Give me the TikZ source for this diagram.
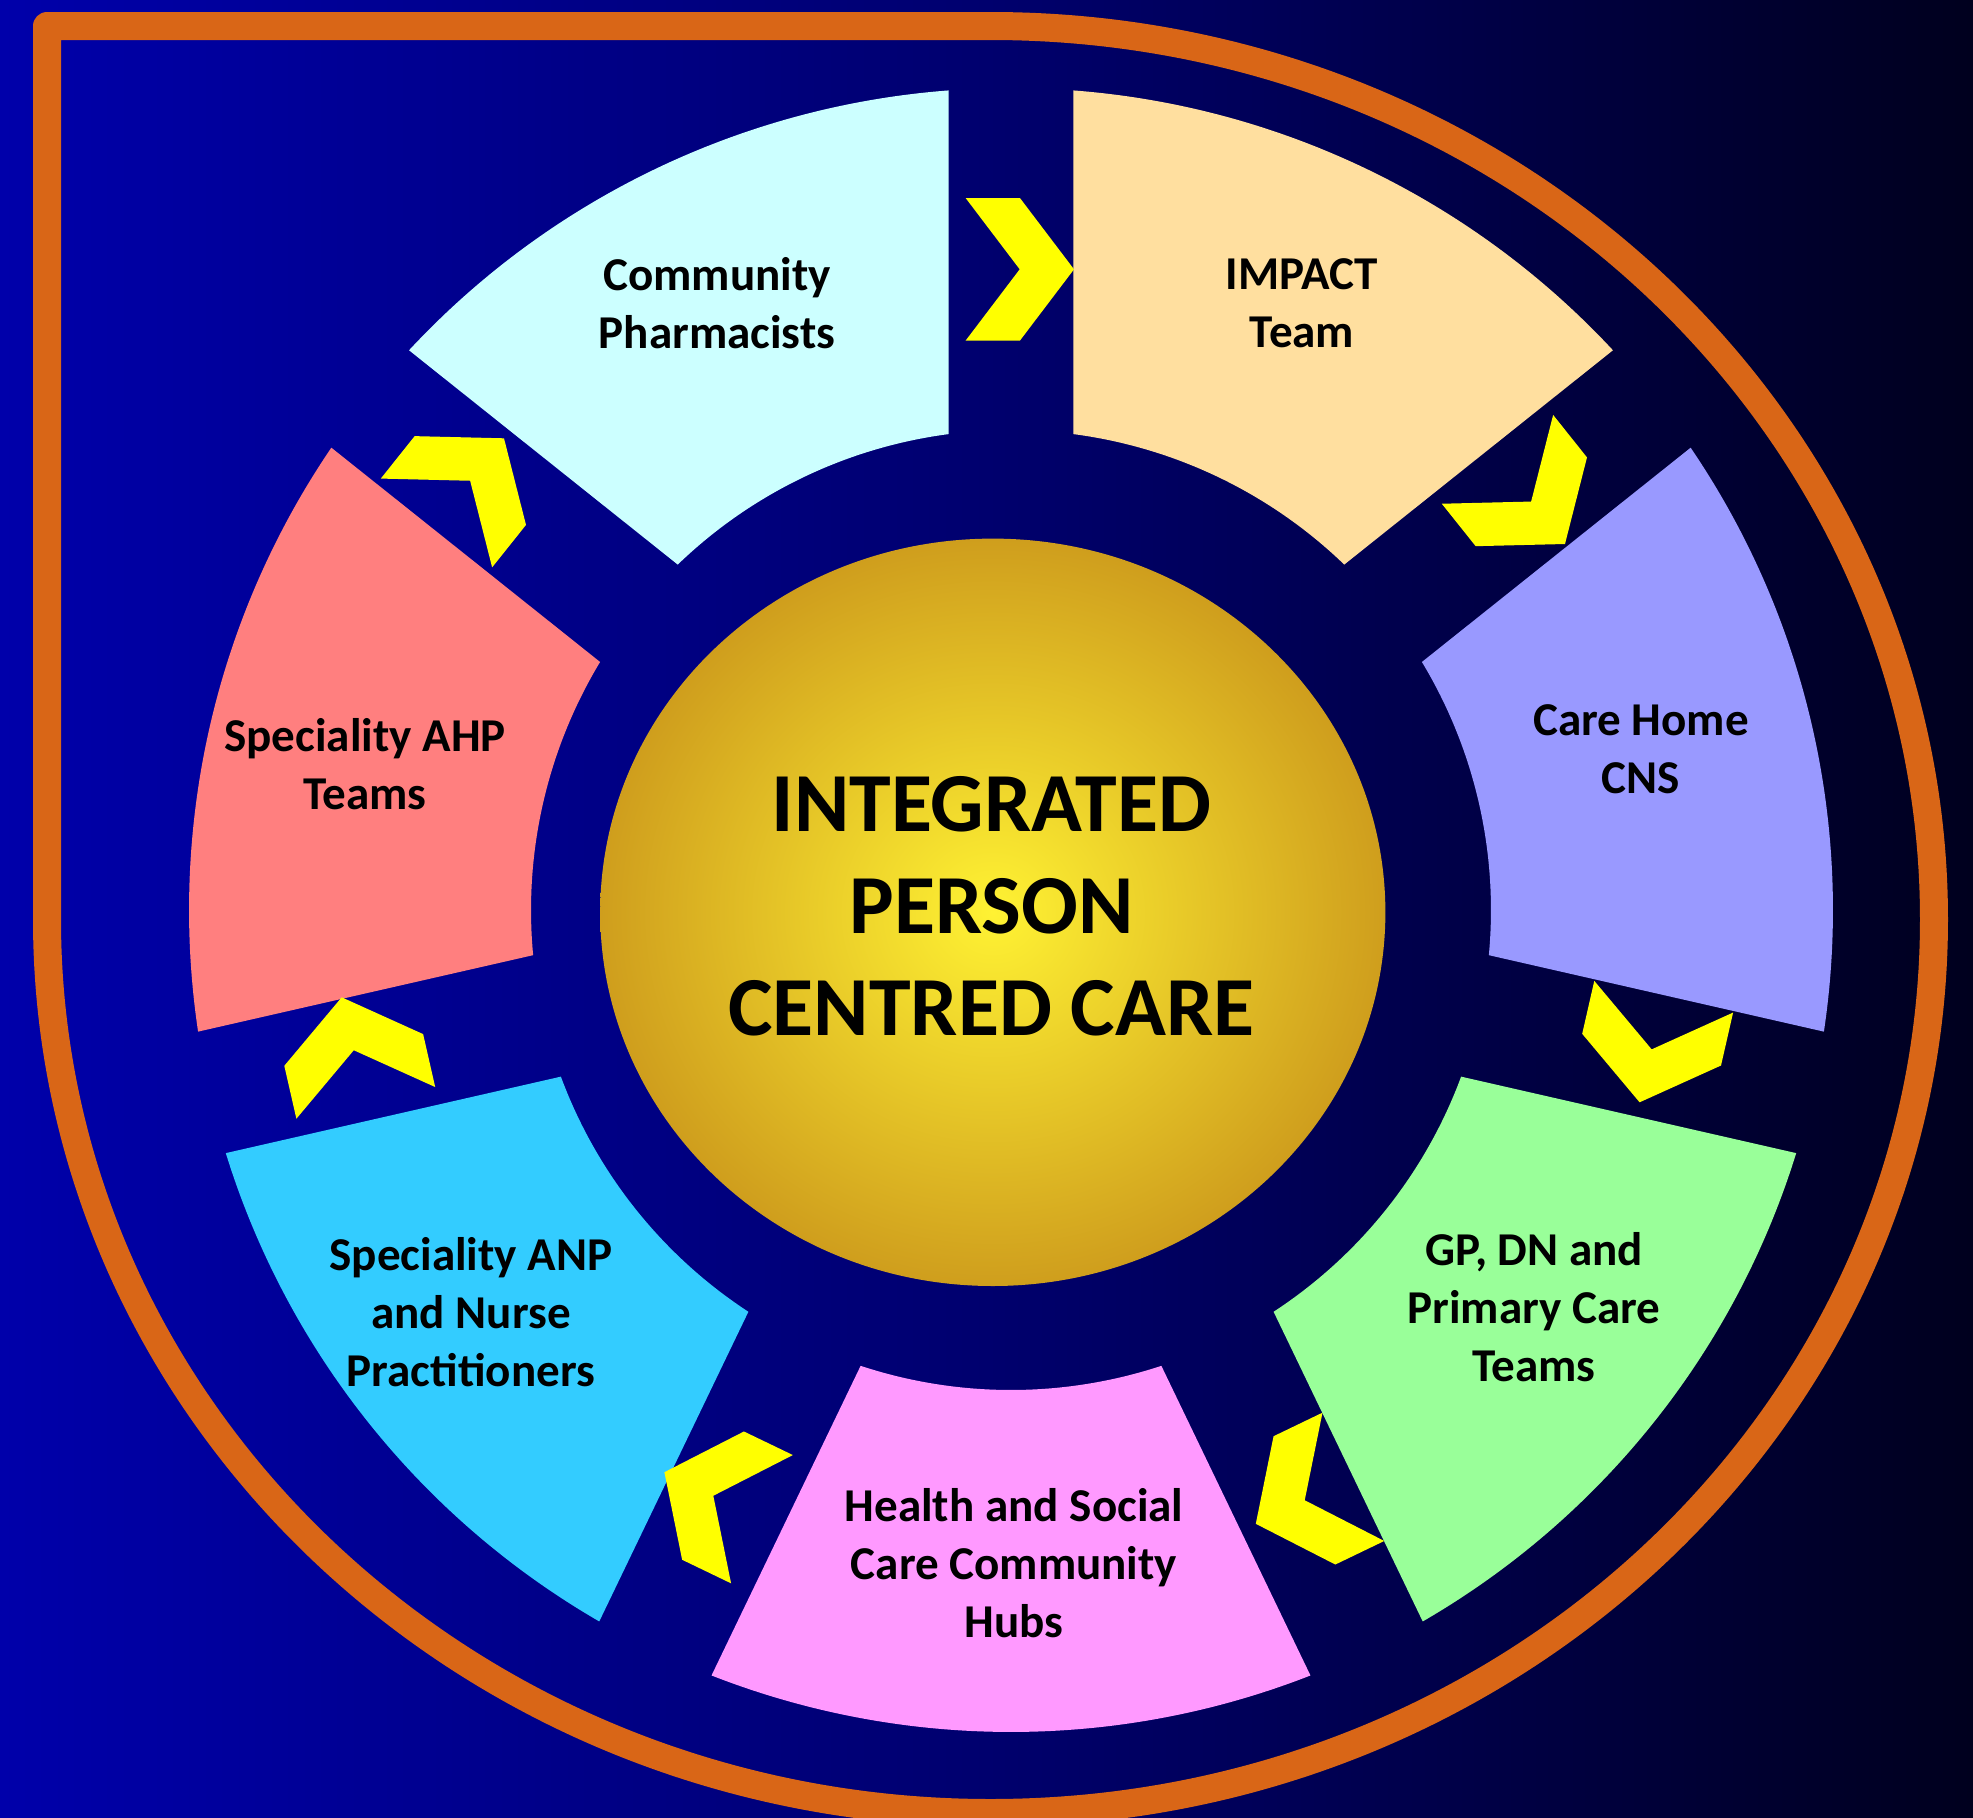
\documentclass[tikz,border=0pt]{standalone}
\usepackage{fontspec}
\setmainfont{Carlito}
\definecolor{bgL}{HTML}{0000AA}
\definecolor{bgM}{HTML}{00006E}
\definecolor{bgR}{HTML}{00001E}
\definecolor{borderorange}{HTML}{D96617}
\definecolor{cpcol}{HTML}{CCFFFF}
\definecolor{impcol}{HTML}{FFDF9F}
\definecolor{chcol}{HTML}{9999FF}
\definecolor{gpcol}{HTML}{99FF99}
\definecolor{hubcol}{HTML}{FF99FF}
\definecolor{anpcol}{HTML}{33CCFF}
\definecolor{ahpcol}{HTML}{FF7F7F}
\definecolor{chevyellow}{HTML}{FFFF00}
\definecolor{goldin}{HTML}{FFF233}
\definecolor{goldout}{HTML}{CF9E1D}
\begin{document}
\begin{tikzpicture}[
  chev/.style={fill=chevyellow, draw=none},
  lbl/.style={font=\fontsize{13.4}{16.5}\selectfont\bfseries, align=center, text=black, inner sep=0pt},
  ctr/.style={font=\fontsize{23.9}{29}\selectfont\bfseries, align=center, text=black, inner sep=0pt},
  frame/.style={line width=0.28cm, draw=borderorange, line join=round}
]
\useasboundingbox (0,0) rectangle (19.73,-18.18);
\shade[left color=bgL, right color=bgR, middle color=bgM] (0,0) rectangle (19.73,-18.18);

% orange frame
\draw[frame] (0.47,-9.195) -- (0.47,-0.26) -- (9.905,-0.26)
  arc[start angle=90, end angle=-180, x radius=9.435, y radius=8.935];

% ring segments
\begin{scope}[shift={(10.11,-9.10)}]
\foreach \g/\c in {141.4286/cpcol, 90/impcol, 38.5714/chcol, -12.8571/gpcol, -64.2857/hubcol, -115.7143/anpcol, -167.1429/ahpcol}{
  \fill[\c] ({\g-4.347}:8.22)
    arc[start angle={\g-4.347}, end angle={\g-51.4286+4.347}, radius=8.22]
    -- ({\g-51.4286+7.457}:4.80)
    arc[start angle={\g-51.4286+7.457}, end angle={\g-7.457}, radius=4.80]
    -- cycle;
}
\end{scope}

% centre disc
\shade[inner color=goldin, outer color=goldout] (9.928,-9.123) ellipse[x radius=3.926, y radius=3.737];

% chevrons
\foreach \x/\y/\r in {10.74/-2.693/0, 15.65/-5.44/-51.4286, 16.396/-11.023/-102.857, 12.558/-15.238/-154.286, 6.644/-14.722/154.286, 3.417/-9.973/102.857, 5.04/-4.383/51.4286}{
  \fill[chev, shift={(\x,\y)}, rotate=\r] (0,0) -- (-0.54,0.712) -- (-1.083,0.712) -- (-0.543,0) -- (-1.083,-0.712) -- (-0.54,-0.712) -- cycle;
}

% labels
\node[lbl] (cp) at (7.17,-3.03) {Community\\Pharmacists};
\node[lbl] (impact) at (13.02,-3.03) {IMPACT\\Team};
\node[lbl] (carehome) at (16.41,-7.49) {Care Home\\CNS};
\node[lbl] (gp) at (15.34,-13.07) {GP, DN and\\Primary Care\\Teams};
\node[lbl] (hubs) at (10.14,-15.63) {Health and Social\\Care Community\\Hubs};
\node[lbl] (anp) at (4.71,-13.12) {Speciality ANP\\and Nurse\\Practitioners};
\node[lbl] (ahp) at (3.65,-7.64) {Speciality AHP\\Teams};
\node[ctr] (core) at (9.915,-9.06) {INTEGRATED\\PERSON\\CENTRED CARE};
\end{tikzpicture}
\end{document}
